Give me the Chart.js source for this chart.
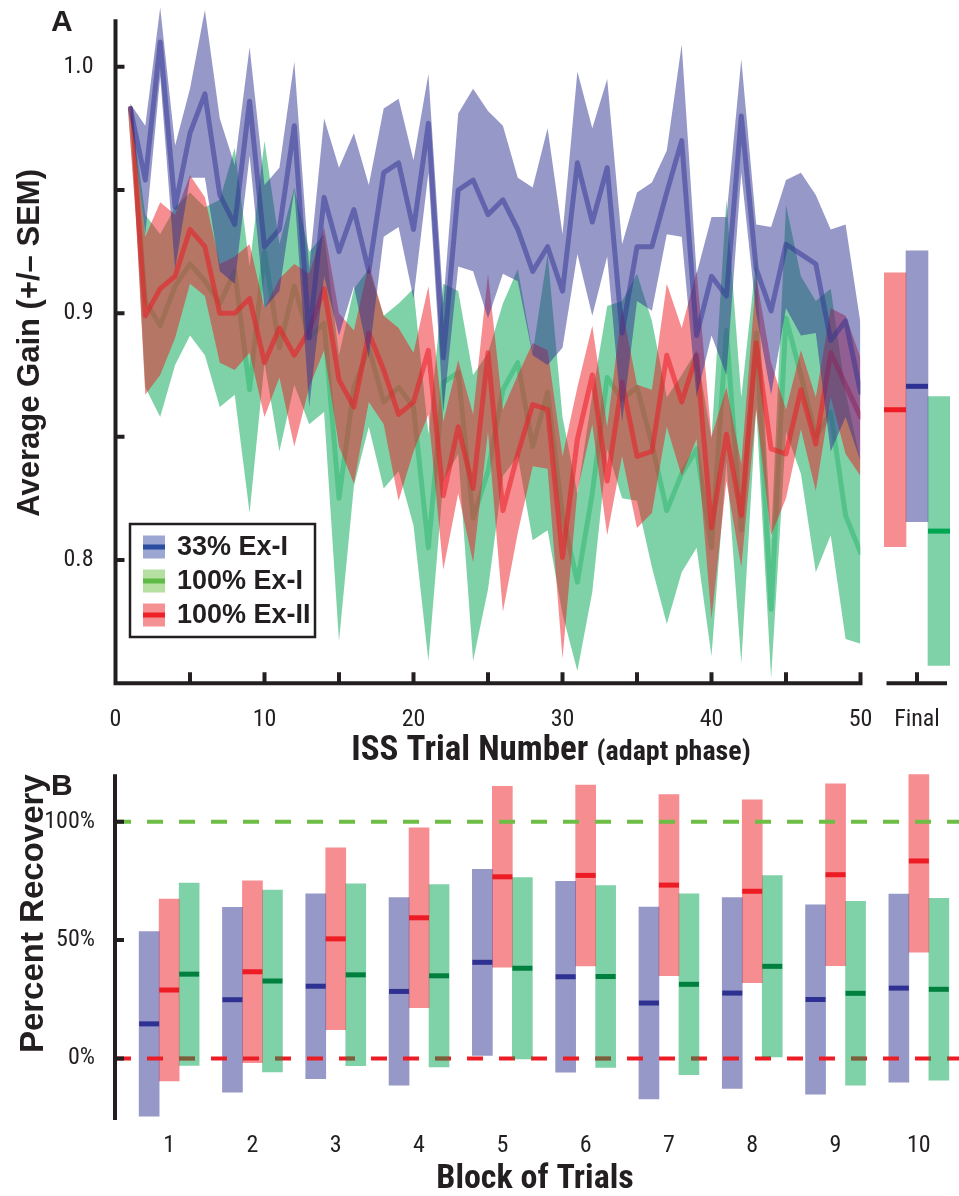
<!DOCTYPE html>
<html>
<head>
<meta charset="utf-8">
<title>Average gain and percent recovery</title>
<script src="https://cdn.jsdelivr.net/npm/chart.js@4.4.1/dist/chart.umd.min.js"></script>
<style>
  html, body { margin: 0; padding: 0; background: #fff; }
  #fig { position: relative; width: 959px; height: 1196px; overflow: hidden; }
  #fig canvas { position: absolute; }
</style>
</head>
<body>
<div id="fig">
  <canvas id="gain" width="880" height="765" style="left:0px; top:0px;"></canvas>
  <canvas id="final" width="89" height="765" style="left:870px; top:0px;"></canvas>
  <canvas id="recovery" width="959" height="436" style="left:0px; top:760px;"></canvas>
</div>
<script>
// ---- data: panel A, average gain per trial (mean and SEM)
const trials = [1, 2, 3, 4, 5, 6, 7, 8, 9, 10, 11, 12, 13, 14, 15, 16, 17, 18, 19, 20, 21, 22, 23, 24, 25,
    26, 27, 28, 29, 30, 31, 32, 33, 34, 35, 36, 37, 38, 39, 40, 41, 42, 43, 44, 45, 46, 47, 48, 49, 50];

const blueMean = [0.983, 0.954, 1.010, 0.943, 0.973, 0.989, 0.948, 0.936, 0.986, 0.927,
    0.934, 0.976, 0.890, 0.947, 0.925, 0.942, 0.917, 0.957, 0.961, 0.934,
    0.977, 0.882, 0.950, 0.954, 0.940, 0.946, 0.934, 0.917, 0.927, 0.909,
    0.961, 0.937, 0.959, 0.892, 0.927, 0.927, 0.949, 0.970, 0.891, 0.915,
    0.907, 0.980, 0.918, 0.901, 0.928, 0.924, 0.920, 0.889, 0.897, 0.868];
const blueSem = [0.002, 0.022, 0.014, 0.025, 0.018, 0.034, 0.031, 0.024, 0.022, 0.025,
    0.025, 0.026, 0.028, 0.032, 0.034, 0.031, 0.035, 0.026, 0.026, 0.028,
    0.020, 0.022, 0.031, 0.037, 0.042, 0.030, 0.021, 0.034, 0.048, 0.023,
    0.037, 0.038, 0.036, 0.036, 0.022, 0.026, 0.017, 0.039, 0.025, 0.024,
    0.032, 0.023, 0.018, 0.034, 0.026, 0.033, 0.028, 0.045, 0.039, 0.028];

const greenMean = [0.983, 0.905, 0.895, 0.911, 0.920, 0.913, 0.904, 0.917, 0.869, 0.925,
    0.886, 0.911, 0.890, 0.896, 0.825, 0.870, 0.886, 0.864, 0.870, 0.862,
    0.805, 0.872, 0.876, 0.817, 0.836, 0.869, 0.880, 0.846, 0.868, 0.818,
    0.791, 0.827, 0.874, 0.865, 0.870, 0.847, 0.820, 0.835, 0.845, 0.805,
    0.893, 0.812, 0.892, 0.780, 0.898, 0.875, 0.850, 0.860, 0.818, 0.803];
const greenSem = [0.002, 0.035, 0.037, 0.032, 0.029, 0.030, 0.042, 0.050, 0.050, 0.045,
    0.042, 0.040, 0.035, 0.036, 0.058, 0.040, 0.032, 0.035, 0.034, 0.048,
    0.046, 0.040, 0.033, 0.058, 0.048, 0.035, 0.038, 0.038, 0.056, 0.040,
    0.036, 0.040, 0.029, 0.040, 0.046, 0.050, 0.046, 0.040, 0.040, 0.044,
    0.053, 0.054, 0.030, 0.028, 0.046, 0.040, 0.055, 0.050, 0.050, 0.037];

const redMean = [0.983, 0.899, 0.910, 0.915, 0.934, 0.927, 0.900, 0.900, 0.906, 0.880,
    0.894, 0.883, 0.893, 0.910, 0.873, 0.862, 0.892, 0.877, 0.859, 0.864,
    0.885, 0.826, 0.854, 0.829, 0.884, 0.820, 0.843, 0.863, 0.861, 0.801,
    0.849, 0.875, 0.832, 0.872, 0.842, 0.844, 0.883, 0.864, 0.883, 0.813,
    0.851, 0.818, 0.888, 0.845, 0.843, 0.869, 0.847, 0.884, 0.871, 0.858];
const redSem = [0.002, 0.032, 0.035, 0.025, 0.022, 0.020, 0.020, 0.023, 0.022, 0.022,
    0.020, 0.037, 0.023, 0.025, 0.027, 0.031, 0.028, 0.022, 0.035, 0.020,
    0.026, 0.030, 0.027, 0.030, 0.032, 0.041, 0.032, 0.025, 0.024, 0.041,
    0.021, 0.020, 0.022, 0.030, 0.029, 0.025, 0.029, 0.030, 0.034, 0.037,
    0.019, 0.021, 0.027, 0.035, 0.018, 0.016, 0.019, 0.018, 0.028, 0.024];

// groups in legend order: blue, green, red
const groupNames = ["33% Ex-I", "100% Ex-I", "100% Ex-II"];
const finalMean = [0.8704, 0.8117, 0.8609];
const finalSem = [0.0549, 0.0545, 0.0555];

const gainXLabels = [0, 10, 20, 30, 40, 50];
const gainXMarks = [0, 5, 10, 15, 20, 25, 30, 35, 40, 45, 50];
const gainYLabels = [0.8, 0.9, 1.0];
const gainYMarks = [0.8, 0.85, 0.9, 0.95, 1.0];

// ---- data: panel B, percent recovery per block (mean and half-range)
const blocks = [1, 2, 3, 4, 5, 6, 7, 8, 9, 10];
const blockBlueMean = [14.6, 24.8, 30.5, 28.3, 40.6, 34.5, 23.4, 27.6, 24.9, 29.7];
const blockBlueErr = [39.0, 39.0, 39.0, 39.6, 39.3, 40.3, 40.5, 40.3, 40.0, 39.7];
const blockRedMean = [28.9, 36.6, 50.5, 59.4, 76.7, 77.3, 73.2, 70.6, 77.6, 83.4];
const blockRedErr = [38.4, 38.4, 38.4, 38.0, 38.2, 38.2, 38.2, 38.6, 38.4, 38.5];
const blockGreenMean = [35.6, 32.7, 35.3, 34.9, 38.1, 34.6, 31.3, 38.9, 27.5, 29.2];
const blockGreenErr = [38.5, 38.4, 38.4, 38.5, 38.3, 38.4, 38.2, 38.3, 38.8, 38.4];
const recoveryTicks = [0, 50, 100];
const refLevels = [100, 0];

// ---- style
const ink = "#231f20";
const narrow = "'Liberation Sans Narrow', 'Arial Narrow', 'Roboto Condensed', 'Liberation Sans', sans-serif";
const wide = "'Liberation Sans', Arial, sans-serif";
const tickFont = { family: narrow, size: 24 };

const bandColor = ["rgba(46, 49, 146, 0.5)", "rgba(0, 166, 81, 0.5)", "rgba(237, 28, 36, 0.5)"];
const lineColor = ["rgba(46, 49, 146, 0.5)", "rgba(0, 166, 81, 0.35)", "rgba(237, 28, 36, 0.55)"];
const markColor = ["#2e3192", "#00a651", "#ed1c24"];
const blockMarkColor = ["#2e3192", "#00803e", "#ed1c24"];
const legendBand = ["#9ba6d3", "#b6e0a2", "#f59194"];
const legendLine = ["#2b4c9f", "#5fbb46", "#ee2127"];
const refColor = ["#6cbe45", "#ed1c24"];

Chart.defaults.color = ink;
Chart.defaults.font.family = narrow;

const clear = "rgba(0, 0, 0, 0)";

function bandSets(mean, sem, g, order) {
    return [
        {
            data: trials.map((t, i) => ({ x: t, y: mean[i] + sem[i] })),
            fill: "+1",
            backgroundColor: bandColor[g],
            borderColor: clear,
            borderWidth: 0,
            pointRadius: 0,
            order: order,
        },
        {
            data: trials.map((t, i) => ({ x: t, y: mean[i] - sem[i] })),
            fill: false,
            backgroundColor: clear,
            borderColor: clear,
            borderWidth: 0,
            pointRadius: 0,
            order: order,
        },
    ];
}

function meanLine(mean, g, order) {
    return {
        label: groupNames[g],
        data: trials.map((t, i) => ({ x: t, y: mean[i] })),
        borderColor: lineColor[g],
        borderWidth: 5,
        borderJoinStyle: "round",
        borderCapStyle: "round",
        pointRadius: 0,
        fill: false,
        order: order,
    };
}

// bars carry their mean; draw a short dark bar across at that value
const meanMarks = {
    id: "meanMarks",
    afterDatasetsDraw(chart) {
        const ctx = chart.ctx;
        const y = chart.scales.y;
        ctx.save();
        chart.data.datasets.forEach((ds, i) => {
            if (!ds.means) return;
            ctx.fillStyle = ds.meanColor;
            chart.getDatasetMeta(i).data.forEach((bar, j) => {
                const py = y.getPixelForValue(ds.means[j]);
                if (py < chart.chartArea.top) return;
                ctx.fillRect(bar.x - bar.width / 2, py - 2.5, bar.width, 5);
            });
        });
        ctx.restore();
    },
};

//  Panel A

const gainAxisTop = 1.0192;

const gainFrame = {
    id: "gainFrame",
    afterDraw(chart) {
        const { ctx, scales: { x, y } } = chart;
        const left = x.getPixelForValue(0);
        const right = x.getPixelForValue(50);
        const top = y.getPixelForValue(gainAxisTop);
        const base = y.getPixelForValue(0.75);
        ctx.save();
        ctx.strokeStyle = ink;
        ctx.lineWidth = 4;
        ctx.beginPath();
        ctx.moveTo(left, top);
        ctx.lineTo(left, base + 2);
        ctx.moveTo(left - 2, base);
        ctx.lineTo(right + 2, base);
        gainXMarks.forEach((v) => {
            const px = x.getPixelForValue(v);
            ctx.moveTo(px, base);
            ctx.lineTo(px, base - 11);
        });
        gainYMarks.forEach((v) => {
            const py = y.getPixelForValue(v);
            ctx.moveTo(left, py);
            ctx.lineTo(left + 9, py);
        });
        ctx.stroke();

        ctx.fillStyle = ink;
        ctx.textBaseline = "alphabetic";
        ctx.textAlign = "left";
        ctx.font = "bold 30px " + wide;
        ctx.fillText("A", 51, 31);

        // x title, big part and small part
        const t1 = "ISS Trial Number ";
        const t2 = "(adapt phase)";
        ctx.font = "bold 35px " + narrow;
        const w1 = ctx.measureText(t1).width;
        ctx.font = "bold 28px " + narrow;
        const w2 = ctx.measureText(t2).width;
        const start = 551 - (w1 + w2) / 2;
        ctx.font = "bold 35px " + narrow;
        ctx.fillText(t1, start, 760);
        ctx.font = "bold 28px " + narrow;
        ctx.fillText(t2, start + w1, 760);

        // legend
        const bx = 130, by = 524, bw = 185, bh = 113;
        ctx.fillStyle = "#fff";
        ctx.fillRect(bx, by, bw, bh);
        ctx.lineWidth = 2.5;
        ctx.strokeRect(bx, by, bw, bh);
        ctx.font = "bold 27px " + wide;
        ctx.textBaseline = "middle";
        groupNames.forEach((name, g) => {
            const cy = 547 + g * 34;
            ctx.fillStyle = legendBand[g];
            ctx.fillRect(143, cy - 11.5, 22, 23);
            ctx.fillStyle = legendLine[g];
            ctx.fillRect(143, cy - 2.5, 22, 5);
            ctx.fillStyle = ink;
            ctx.fillText(name, 177, cy + 1);
        });
        ctx.restore();
    },
};

new Chart(document.getElementById("gain"), {
    type: "line",
    data: {
        datasets: [
            meanLine(blueMean, 0, 0),
            ...bandSets(blueMean, blueSem, 0, 1),
            meanLine(redMean, 2, 2),
            ...bandSets(redMean, redSem, 2, 3),
            meanLine(greenMean, 1, 4),
            ...bandSets(greenMean, greenSem, 1, 5),
        ],
    },
    options: {
        responsive: false,
        animation: false,
        events: [],
        layout: { padding: { top: 2.5, right: 19.5, left: 0, bottom: 0 } },
        elements: { line: { tension: 0 } },
        plugins: { legend: { display: false }, tooltip: { enabled: false } },
        scales: {
            x: {
                type: "linear",
                min: 0,
                max: 50,
                grid: { display: false },
                border: { display: false },
                ticks: { font: tickFont, color: ink, padding: 14, maxRotation: 0 },
                afterBuildTicks: (s) => { s.ticks = gainXLabels.map((v) => ({ value: v })); },
                afterFit: (s) => { s.height = 765 - 683.3; s.paddingLeft = 0; s.paddingRight = 0; },
            },
            y: {
                min: 0.75,
                max: 1.026,
                grid: { display: false },
                border: { display: false },
                ticks: { font: tickFont, color: ink, padding: 14, callback: (v) => v.toFixed(1) },
                afterBuildTicks: (s) => { s.ticks = gainYLabels.map((v) => ({ value: v })); },
                title: {
                    display: true,
                    text: "Average Gain (+/\u2013 SEM)",
                    font: { family: wide, size: 31, weight: "bold", lineHeight: 1 },
                    color: ink,
                    padding: { top: 15, bottom: 0 },
                },
                afterFit: (s) => { s.width = 115.5; s.paddingTop = 0; s.paddingBottom = 0; },
            },
        },
    },
    plugins: [gainFrame],
});

//  Panel A, final values

const finalFrame = {
    id: "finalFrame",
    afterDraw(chart) {
        const { ctx, chartArea, scales: { x } } = chart;
        const base = chartArea.bottom;
        const cx = x.getPixelForValue(0);
        ctx.save();
        ctx.strokeStyle = ink;
        ctx.lineWidth = 4;
        ctx.beginPath();
        ctx.moveTo(chartArea.left + 2.5, base);
        ctx.lineTo(chartArea.right - 3, base);
        ctx.moveTo(cx, base);
        ctx.lineTo(cx, base - 11);
        ctx.stroke();
        ctx.restore();
    },
};

const finalPlace = [2, 0, 1]; // red, blue, green from left to right

new Chart(document.getElementById("final"), {
    type: "bar",
    data: {
        labels: ["Final"],
        datasets: finalPlace.map((g) => ({
            label: groupNames[g],
            data: [[finalMean[g] - finalSem[g], finalMean[g] + finalSem[g]]],
            backgroundColor: bandColor[g],
            borderWidth: 0,
            barThickness: 22,
            means: [finalMean[g]],
            meanColor: markColor[g],
        })),
    },
    options: {
        responsive: false,
        animation: false,
        events: [],
        layout: { padding: { top: 2.5, right: 9, left: 14, bottom: 0 } },
        plugins: { legend: { display: false }, tooltip: { enabled: false } },
        scales: {
            x: {
                grid: { display: false },
                border: { display: false },
                ticks: { font: tickFont, color: ink, padding: 14, maxRotation: 0 },
                afterFit: (s) => { s.height = 765 - 683.3; s.paddingLeft = 0; s.paddingRight = 0; },
            },
            y: { display: false, min: 0.75, max: 1.026 },
        },
    },
    plugins: [meanMarks, finalFrame],
});

//  Panel B

const refLines = {
    id: "refLines",
    afterDatasetsDraw(chart) {
        const { ctx, chartArea, scales: { y } } = chart;
        const x0 = chartArea.left;
        const x1 = chart.width;
        const dash = (color) => {
            refLevels.forEach((v, k) => {
                const py = y.getPixelForValue(v);
                ctx.strokeStyle = color || refColor[k];
                ctx.beginPath();
                ctx.moveTo(x0, py);
                ctx.lineTo(x1, py);
                ctx.stroke();
            });
        };
        ctx.save();
        ctx.lineWidth = 4;
        ctx.setLineDash([16, 16]);
        dash();
        // green bars sit over the dashes
        ctx.beginPath();
        chart.getDatasetMeta(2).data.forEach((bar) => {
            ctx.rect(bar.x - bar.width / 2, Math.min(bar.y, bar.base), bar.width, Math.abs(bar.base - bar.y));
        });
        ctx.clip();
        dash(bandColor[1]);
        ctx.restore();
    },
};

const recoveryFrame = {
    id: "recoveryFrame",
    afterDraw(chart) {
        const { ctx, chartArea, scales: { y } } = chart;
        const left = chartArea.left;
        ctx.save();
        ctx.strokeStyle = ink;
        ctx.lineWidth = 4;
        ctx.beginPath();
        ctx.moveTo(left, chartArea.top);
        ctx.lineTo(left, chartArea.bottom);
        recoveryTicks.forEach((v) => {
            const py = y.getPixelForValue(v);
            ctx.moveTo(left, py);
            ctx.lineTo(left + 9, py);
        });
        ctx.stroke();
        ctx.fillStyle = ink;
        ctx.font = "bold 30px " + wide;
        ctx.textBaseline = "alphabetic";
        ctx.fillText("B", 51, 35);
        ctx.restore();
    },
};

function blockSet(mean, err, g) {
    return {
        label: groupNames[g],
        data: blocks.map((b, i) => ({ x: b, y: [mean[i] - err[i], mean[i] + err[i]] })),
        backgroundColor: bandColor[g],
        borderWidth: 0,
        barThickness: 20,
        means: mean,
        meanColor: blockMarkColor[g],
    };
}

new Chart(document.getElementById("recovery"), {
    type: "bar",
    data: {
        datasets: [
            blockSet(blockBlueMean, blockBlueErr, 0),
            blockSet(blockRedMean, blockRedErr, 2),
            blockSet(blockGreenMean, blockGreenErr, 1),
        ],
    },
    options: {
        responsive: false,
        animation: false,
        events: [],
        layout: { padding: { top: 14.3, right: 4, left: 0, bottom: 0 } },
        plugins: { legend: { display: false }, tooltip: { enabled: false } },
        scales: {
            x: {
                type: "linear",
                offset: false,
                min: 0.35,
                max: 10.434,
                grid: { display: false, offset: false },
                border: { display: false },
                ticks: { font: tickFont, color: ink, padding: 4, maxRotation: 0 },
                afterBuildTicks: (s) => { s.ticks = blocks.map((v) => ({ value: v })); },
                title: {
                    display: true,
                    text: "Block of Trials",
                    font: { family: narrow, size: 34, weight: "bold", lineHeight: 1 },
                    color: ink,
                    padding: { top: 2, bottom: 0 },
                },
                afterFit: (s) => { s.height = 76; s.paddingLeft = 0; s.paddingRight = 0; },
            },
            y: {
                min: -26,
                max: 120,
                grid: { display: false },
                border: { display: false },
                ticks: { font: tickFont, color: ink, padding: 12, callback: (v) => v + "%" },
                afterBuildTicks: (s) => { s.ticks = recoveryTicks.map((v) => ({ value: v })); },
                title: {
                    display: true,
                    text: "Percent Recovery",
                    font: { family: wide, size: 33, weight: "bold", lineHeight: 1 },
                    color: ink,
                    align: "end",
                    padding: { top: 17, bottom: 0 },
                },
                afterFit: (s) => { s.width = 115; s.paddingTop = 0; s.paddingBottom = 0; },
            },
        },
    },
    plugins: [refLines, meanMarks, recoveryFrame],
});
</script>
</body>
</html>
